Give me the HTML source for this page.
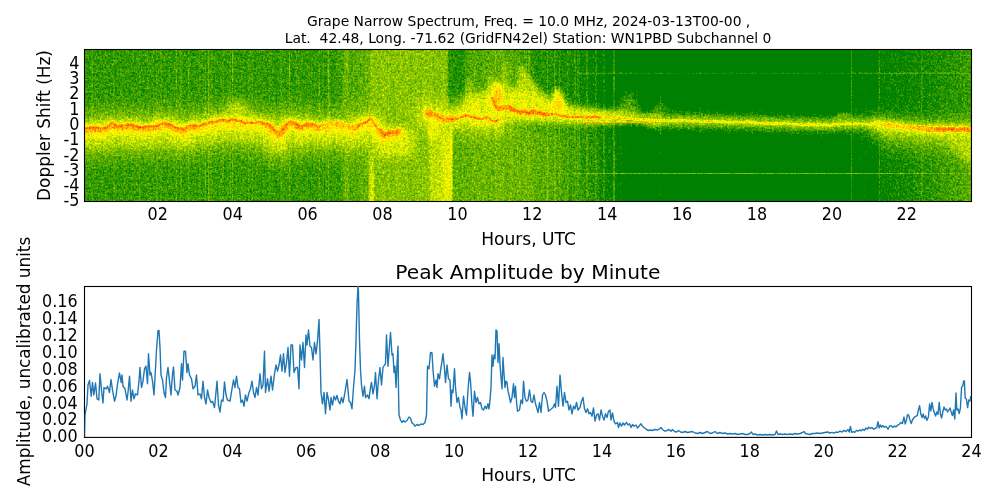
<!DOCTYPE html>
<html><head><meta charset="utf-8"><title>Grape Narrow Spectrum</title>
<style>
html,body{margin:0;padding:0;background:#fff;}
svg{display:block;will-change:transform;}
text{font-family:"DejaVu Sans","Liberation Sans",sans-serif;fill:#000;white-space:pre;}
.t10{font-size:13.89px}
.t12{font-size:16.67px}
.t14{font-size:19.44px}
</style></head><body>
<svg width="1000" height="500" viewBox="0 0 1000 500">
<rect width="1000" height="500" fill="#fff"/>
<text class="t10" x="528.6" y="25.8" text-anchor="middle" xml:space="preserve">Grape Narrow Spectrum, Freq. = 10.0 MHz, 2024-03-13T00-00 ,</text>
<text class="t10" x="528" y="42.7" text-anchor="middle" xml:space="preserve">Lat.  42.48, Long. -71.62 (GridFN42el) Station: WN1PBD Subchannel 0</text>
<defs>
<filter id="spec" filterUnits="userSpaceOnUse" x="84.5" y="49.5" width="887.0" height="152.0" color-interpolation-filters="sRGB">
<feTurbulence type="fractalNoise" baseFrequency="0.58" numOctaves="2" seed="3" result="n1"/>
<feColorMatrix in="n1" type="matrix" values="1 0 0 0 0 1 0 0 0 0 1 0 0 0 0 0 0 0 0 1" result="n1g"/>
<feTurbulence type="fractalNoise" baseFrequency="0.55 0.004" numOctaves="2" seed="11" result="n2"/>
<feColorMatrix in="n2" type="matrix" values="1 0 0 0 0 1 0 0 0 0 1 0 0 0 0 0 0 0 0 1" result="n2g"/>
<feComposite in="SourceGraphic" in2="n1g" operator="arithmetic" k1="0" k2="1" k3="0.31" k4="-0.155" result="s1"/>
<feComposite in="s1" in2="n2g" operator="arithmetic" k1="0.16" k2="0.92" k3="0" k4="0" result="s2"/>
<feTurbulence type="fractalNoise" baseFrequency="0.22 0.3" numOctaves="2" seed="23" result="n3"/>
<feColorMatrix in="n3" type="matrix" values="1 0 0 0 0 1 0 0 0 0 1 0 0 0 0 0 0 0 0 1" result="n3g"/>
<feComposite in="s2" in2="n3g" operator="arithmetic" k1="0" k2="1" k3="0.15" k4="-0.075" result="s3"/>
<feComponentTransfer in="s3">
<feFuncR type="table" tableValues="0 0 0 0 0 0 0 0 0 0 0 0.067 0.133 0.2 0.267 0.333 0.4 0.467 0.533 0.6 0.667 0.733 0.8 0.867 0.933 1 1 1 1 1 1 1 1 1 1 1 1 1 1 1 1"/>
<feFuncG type="table" tableValues="0.502 0.502 0.502 0.502 0.502 0.502 0.502 0.502 0.502 0.502 0.502 0.535 0.568 0.602 0.635 0.668 0.701 0.734 0.768 0.801 0.834 0.867 0.9 0.934 0.967 1 0.933 0.867 0.8 0.733 0.667 0.6 0.533 0.467 0.4 0.333 0.267 0.2 0.133 0.067 0"/>
<feFuncB type="table" tableValues="0 0 0 0 0 0 0 0 0 0 0 0 0 0 0 0 0 0 0 0 0 0 0 0 0 0 0 0 0 0 0 0 0 0 0 0 0 0 0 0 0"/>
</feComponentTransfer>
</filter>
<filter id="b1" filterUnits="userSpaceOnUse" x="24.5" y="-10.5" width="1007.0" height="272.0" color-interpolation-filters="sRGB"><feGaussianBlur stdDeviation="0.6"/></filter>
<filter id="b2" filterUnits="userSpaceOnUse" x="24.5" y="-10.5" width="1007.0" height="272.0" color-interpolation-filters="sRGB"><feGaussianBlur stdDeviation="2.0"/></filter>
<filter id="b3" filterUnits="userSpaceOnUse" x="24.5" y="-10.5" width="1007.0" height="272.0" color-interpolation-filters="sRGB"><feGaussianBlur stdDeviation="4.5"/></filter>
<filter id="b4" filterUnits="userSpaceOnUse" x="24.5" y="-10.5" width="1007.0" height="272.0" color-interpolation-filters="sRGB"><feGaussianBlur stdDeviation="9"/></filter>
<filter id="b5" filterUnits="userSpaceOnUse" x="24.5" y="-10.5" width="1007.0" height="272.0" color-interpolation-filters="sRGB"><feGaussianBlur stdDeviation="14"/></filter>
<filter id="bx" filterUnits="userSpaceOnUse" x="24.5" y="-10.5" width="1007.0" height="272.0" color-interpolation-filters="sRGB"><feGaussianBlur stdDeviation="1.2 0.1"/></filter>
<filter id="bf" filterUnits="userSpaceOnUse" x="24.5" y="-10.5" width="1007.0" height="272.0" color-interpolation-filters="sRGB"><feGaussianBlur stdDeviation="2.5 4"/></filter>
<linearGradient id="gb" gradientUnits="userSpaceOnUse" x1="84.5" x2="971.5" y1="0" y2="0"><stop offset="0.0000" stop-color="#535353"/><stop offset="0.2768" stop-color="#535353"/><stop offset="0.3016" stop-color="#5e5e5e"/><stop offset="0.3185" stop-color="#606060"/><stop offset="0.3286" stop-color="#717171"/><stop offset="0.3861" stop-color="#737373"/><stop offset="0.3906" stop-color="#888888"/><stop offset="0.4030" stop-color="#8c8c8c"/><stop offset="0.4076" stop-color="#9a9a9a"/><stop offset="0.4138" stop-color="#969696"/><stop offset="0.4160" stop-color="#646464"/><stop offset="0.4684" stop-color="#6a6a6a"/><stop offset="0.5248" stop-color="#606060"/><stop offset="0.5699" stop-color="#4f4f4f"/><stop offset="0.5981" stop-color="#3c3c3c"/><stop offset="0.6263" stop-color="#101010"/><stop offset="0.8630" stop-color="#101010"/><stop offset="0.8653" stop-color="#2f2f2f"/><stop offset="0.8946" stop-color="#303030"/><stop offset="0.8968" stop-color="#404040"/><stop offset="0.9532" stop-color="#4f4f4f"/><stop offset="1.0000" stop-color="#626262"/></linearGradient>
<linearGradient id="gt" gradientUnits="userSpaceOnUse" x1="84.5" x2="971.5" y1="0" y2="0"><stop offset="0.0000" stop-color="#525252"/><stop offset="0.2768" stop-color="#525252"/><stop offset="0.3016" stop-color="#5e5e5e"/><stop offset="0.3185" stop-color="#606060"/><stop offset="0.3286" stop-color="#737373"/><stop offset="0.3861" stop-color="#737373"/><stop offset="0.4008" stop-color="#737373"/><stop offset="0.4087" stop-color="#757575"/><stop offset="0.4109" stop-color="#4f4f4f"/><stop offset="0.4278" stop-color="#4d4d4d"/><stop offset="0.4312" stop-color="#5c5c5c"/><stop offset="0.4526" stop-color="#606060"/><stop offset="0.4684" stop-color="#646464"/><stop offset="0.4955" stop-color="#595959"/><stop offset="0.5079" stop-color="#4d4d4d"/><stop offset="0.5361" stop-color="#494949"/><stop offset="0.5699" stop-color="#404040"/><stop offset="0.5924" stop-color="#2d2d2d"/><stop offset="0.6263" stop-color="#101010"/><stop offset="0.8630" stop-color="#101010"/><stop offset="0.8653" stop-color="#2f2f2f"/><stop offset="0.8946" stop-color="#303030"/><stop offset="0.8968" stop-color="#3e3e3e"/><stop offset="0.9532" stop-color="#474747"/><stop offset="1.0000" stop-color="#555555"/></linearGradient>
<linearGradient id="mg" x1="0" x2="0" y1="0" y2="1"><stop offset="0.38" stop-color="#fff"/><stop offset="0.58" stop-color="#000"/></linearGradient>
<mask id="mt" maskUnits="userSpaceOnUse" x="79.5" y="44.5" width="897" height="162"><rect x="79.5" y="49.5" width="897" height="152" fill="url(#mg)"/></mask>
<clipPath id="c1"><rect x="84.5" y="49.5" width="887" height="152"/></clipPath>
</defs>
<g filter="url(#spec)"><g clip-path="url(#c1)">
<rect x="79.5" y="44.5" width="897" height="162" fill="url(#gb)"/>
<rect x="79.5" y="44.5" width="897" height="162" fill="url(#gt)" mask="url(#mt)"/>
<rect filter="url(#bx)" x="344.0" y="44.5" width="4.0" height="162.0" fill="#717171" fill-opacity="0.7"/>
<rect filter="url(#bx)" x="369.5" y="44.5" width="4.5" height="162.0" fill="#797979" fill-opacity="0.8"/>
<rect filter="url(#bx)" x="369.5" y="135.0" width="4.5" height="75.0" fill="#989898" fill-opacity="0.9"/>
<rect x="327.5" y="47.5" width="1.0" height="156.0" fill="#818181" fill-opacity="0.16"/>
<rect x="318.9" y="47.5" width="1.0" height="156.0" fill="#818181" fill-opacity="0.27"/>
<rect x="199.4" y="47.5" width="1.0" height="156.0" fill="#818181" fill-opacity="0.37"/>
<rect x="252.0" y="47.5" width="1.0" height="156.0" fill="#818181" fill-opacity="0.24"/>
<rect x="160.6" y="47.5" width="1.0" height="156.0" fill="#818181" fill-opacity="0.33"/>
<rect x="188.2" y="47.5" width="1.0" height="156.0" fill="#818181" fill-opacity="0.42"/>
<rect x="559.1" y="47.5" width="1.0" height="156.0" fill="#818181" fill-opacity="0.32"/>
<rect x="555.0" y="47.5" width="1.0" height="156.0" fill="#818181" fill-opacity="0.18"/>
<rect x="365.9" y="47.5" width="1.0" height="156.0" fill="#818181" fill-opacity="0.17"/>
<rect x="323.2" y="47.5" width="1.0" height="156.0" fill="#818181" fill-opacity="0.18"/>
<rect x="156.4" y="47.5" width="1.0" height="156.0" fill="#818181" fill-opacity="0.36"/>
<rect x="211.2" y="47.5" width="1.0" height="156.0" fill="#818181" fill-opacity="0.19"/>
<rect x="208.0" y="47.5" width="1.0" height="156.0" fill="#818181" fill-opacity="0.27"/>
<rect x="345.2" y="47.5" width="1.0" height="156.0" fill="#818181" fill-opacity="0.22"/>
<rect x="365.9" y="47.5" width="1.0" height="156.0" fill="#818181" fill-opacity="0.29"/>
<rect x="525.7" y="47.5" width="1.0" height="156.0" fill="#818181" fill-opacity="0.35"/>
<rect x="175.9" y="47.5" width="1.0" height="156.0" fill="#818181" fill-opacity="0.4"/>
<rect x="620.4" y="47.5" width="1.0" height="156.0" fill="#818181" fill-opacity="0.33"/>
<rect x="578.8" y="47.5" width="1.0" height="156.0" fill="#818181" fill-opacity="0.27"/>
<rect x="328.0" y="47.5" width="1.0" height="156.0" fill="#818181" fill-opacity="0.42"/>
<rect x="289.0" y="47.5" width="1.0" height="156.0" fill="#818181" fill-opacity="0.45"/>
<rect x="311.1" y="47.5" width="1.0" height="156.0" fill="#818181" fill-opacity="0.16"/>
<rect x="222.9" y="47.5" width="1.0" height="156.0" fill="#818181" fill-opacity="0.17"/>
<rect x="636.6" y="47.5" width="1.0" height="156.0" fill="#818181" fill-opacity="0.49"/>
<rect x="529.3" y="47.5" width="1.0" height="156.0" fill="#818181" fill-opacity="0.36"/>
<rect x="509.8" y="47.5" width="1.0" height="156.0" fill="#818181" fill-opacity="0.21"/>
<rect x="248.3" y="47.5" width="1.0" height="156.0" fill="#818181" fill-opacity="0.33"/>
<rect x="283.6" y="47.5" width="1.0" height="156.0" fill="#818181" fill-opacity="0.17"/>
<rect x="630.7" y="47.5" width="1.0" height="156.0" fill="#818181" fill-opacity="0.3"/>
<rect x="365.2" y="47.5" width="1.0" height="156.0" fill="#818181" fill-opacity="0.26"/>
<rect x="229.9" y="47.5" width="1.0" height="156.0" fill="#818181" fill-opacity="0.29"/>
<rect x="546.9" y="47.5" width="1.0" height="156.0" fill="#818181" fill-opacity="0.41"/>
<rect x="296.1" y="47.5" width="1.0" height="156.0" fill="#818181" fill-opacity="0.15"/>
<rect x="527.8" y="47.5" width="1.0" height="156.0" fill="#818181" fill-opacity="0.24"/>
<rect x="361.4" y="47.5" width="1.0" height="156.0" fill="#818181" fill-opacity="0.3"/>
<rect x="280.4" y="47.5" width="1.0" height="156.0" fill="#818181" fill-opacity="0.34"/>
<rect x="625.0" y="47.5" width="1.0" height="156.0" fill="#818181" fill-opacity="0.19"/>
<rect x="259.5" y="47.5" width="1.0" height="156.0" fill="#818181" fill-opacity="0.16"/>
<rect x="495.1" y="47.5" width="1.0" height="156.0" fill="#818181" fill-opacity="0.38"/>
<rect x="204.9" y="47.5" width="1.0" height="156.0" fill="#818181" fill-opacity="0.3"/>
<rect x="180.4" y="47.5" width="1.0" height="156.0" fill="#818181" fill-opacity="0.46"/>
<rect x="517.0" y="47.5" width="1.0" height="156.0" fill="#818181" fill-opacity="0.2"/>
<rect x="567.4" y="47.5" width="1.0" height="156.0" fill="#818181" fill-opacity="0.41"/>
<rect x="528.4" y="47.5" width="1.0" height="156.0" fill="#818181" fill-opacity="0.34"/>
<rect x="208.3" y="47.5" width="1.0" height="156.0" fill="#818181" fill-opacity="0.47"/>
<rect x="232.1" y="47.5" width="1.0" height="156.0" fill="#818181" fill-opacity="0.47"/>
<rect x="318.5" y="47.5" width="1.0" height="156.0" fill="#818181" fill-opacity="0.34"/>
<rect x="222.2" y="47.5" width="1.0" height="156.0" fill="#818181" fill-opacity="0.22"/>
<rect x="147.3" y="47.5" width="1.0" height="156.0" fill="#818181" fill-opacity="0.25"/>
<rect x="91.7" y="47.5" width="1.0" height="156.0" fill="#818181" fill-opacity="0.37"/>
<rect x="249.5" y="47.5" width="1.0" height="156.0" fill="#818181" fill-opacity="0.22"/>
<rect x="138.8" y="47.5" width="1.0" height="156.0" fill="#818181" fill-opacity="0.25"/>
<rect x="205.1" y="47.5" width="1.0" height="156.0" fill="#818181" fill-opacity="0.25"/>
<rect x="347.2" y="47.5" width="1.0" height="156.0" fill="#818181" fill-opacity="0.34"/>
<rect x="554.2" y="47.5" width="1.0" height="156.0" fill="#818181" fill-opacity="0.5"/>
<rect x="113.1" y="47.5" width="1.0" height="156.0" fill="#818181" fill-opacity="0.23"/>
<rect x="574.5" y="47.5" width="1.0" height="156.0" fill="#797979" fill-opacity="0.55"/>
<rect x="577.5" y="47.5" width="1.0" height="156.0" fill="#797979" fill-opacity="0.55"/>
<rect x="586.5" y="47.5" width="1.0" height="156.0" fill="#797979" fill-opacity="0.55"/>
<rect x="595.5" y="47.5" width="1.0" height="156.0" fill="#797979" fill-opacity="0.55"/>
<rect x="603.5" y="47.5" width="1.0" height="156.0" fill="#797979" fill-opacity="0.55"/>
<rect x="613.0" y="47.5" width="1.0" height="156.0" fill="#797979" fill-opacity="0.55"/>
<rect x="613.9" y="47.5" width="1.0" height="156.0" fill="#797979" fill-opacity="0.55"/>
<rect x="660.3" y="47.5" width="1.0" height="156.0" fill="#797979" fill-opacity="0.55"/>
<rect x="699.5" y="47.5" width="1.0" height="156.0" fill="#797979" fill-opacity="0.55"/>
<rect x="751.5" y="47.5" width="1.0" height="156.0" fill="#797979" fill-opacity="0.55"/>
<rect x="851.0" y="47.5" width="1.0" height="156.0" fill="#797979" fill-opacity="0.55"/>
<rect x="878.7" y="47.5" width="1.0" height="156.0" fill="#797979" fill-opacity="0.55"/>
<rect x="921.5" y="47.5" width="1.0" height="156.0" fill="#797979" fill-opacity="0.55"/>
<rect x="577.0" y="72.6" width="400.0" height="1.0" fill="#6a6a6a"/>
<rect x="545.0" y="173.0" width="430.0" height="1.0" fill="#6a6a6a"/>
<polyline filter="url(#b3)" fill="none" stroke="#535353" stroke-width="24" stroke-linejoin="round" stroke-linecap="round" points="656.0,120.8 688.0,120.8 720.0,121.5 772.0,123.3 824.0,125.1 850.0,123.8 876.0,123.8 880.0,124.2"/>
<polygon filter="url(#b3)" fill="#575757" points="648.0,120.0 656.0,98.0 664.0,98.0 672.0,120.0"/>
<polygon filter="url(#b3)" fill="#5e5e5e" points="614.0,117.0 624.0,92.0 634.0,90.0 644.0,118.0"/>
<polygon filter="url(#b2)" fill="#6a6a6a" points="832.0,124.0 838.0,113.0 848.0,113.0 854.0,124.0"/>
<polyline filter="url(#b4)" fill="none" stroke="#717171" stroke-width="28" stroke-linejoin="round" stroke-linecap="round" points="885.0,131.7 902.0,133.4 928.0,136.0 954.0,136.0 971.5,136.5"/>
<polyline filter="url(#b4)" fill="none" stroke="#757575" stroke-width="44" stroke-linejoin="round" stroke-linecap="round" points="84.5,135.4 85.4,135.2 92.0,134.0 100.4,135.8 106.4,135.8 111.2,130.4 116.0,132.8 128.0,132.8 132.8,131.6 138.8,134.6 146.0,134.0 152.0,133.4 156.8,132.8 161.6,129.8 168.8,131.0 176.0,134.0 183.2,136.4 188.0,134.0 194.0,132.2 200.0,132.2 212.0,129.2 230.0,126.8 242.0,128.6 260.0,129.6 267.2,131.0 273.2,135.8 278.0,141.8 282.8,135.8 290.0,128.6 296.0,131.0 302.0,133.4 308.0,131.0 314.0,132.8 320.0,133.5 332.0,131.8 344.0,132.4 348.8,134.8 357.2,132.4 363.2,128.8 370.4,125.8 375.2,131.8 380.0,139.0 383.6,142.0 392.0,139.6 398.0,138.4"/>
<polyline filter="url(#b2)" fill="none" stroke="#7d7d7d" stroke-width="9" stroke-linejoin="round" stroke-linecap="round" points="656.0,120.8 688.0,120.8 720.0,121.5 772.0,123.3 824.0,125.1 850.0,123.8 876.0,123.8 880.0,124.2"/>
<polygon filter="url(#b2)" fill="#818181" points="486.0,112.0 489.0,73.0 492.0,73.0 495.0,112.0"/>
<polygon filter="url(#b2)" fill="#818181" points="500.0,112.0 503.5,61.0 506.5,61.0 510.0,112.0"/>
<polygon filter="url(#b2)" fill="#818181" points="515.0,104.0 518.5,65.0 522.0,65.0 536.0,85.0 549.0,101.0 553.0,109.0 532.0,112.0"/>
<polygon filter="url(#b2)" fill="#818181" points="465.5,110.0 467.5,77.0 470.5,77.0 473.0,110.0"/>
<polygon filter="url(#b3)" fill="#858585" points="222.0,120.0 232.0,100.0 246.0,104.0 252.0,121.0"/>
<polygon filter="url(#b3)" fill="#858585" points="940.0,132.0 975.0,132.0 975.0,165.0 962.0,160.0"/>
<polyline filter="url(#b3)" fill="none" stroke="#8c8c8c" stroke-width="24" stroke-linejoin="round" stroke-linecap="round" points="84.5,135.4 85.4,135.2 92.0,134.0 100.4,135.8 106.4,135.8 111.2,130.4 116.0,132.8 128.0,132.8 132.8,131.6 138.8,134.6 146.0,134.0 152.0,133.4 156.8,132.8 161.6,129.8 168.8,131.0 176.0,134.0 183.2,136.4 188.0,134.0 194.0,132.2 200.0,132.2 212.0,129.2 230.0,126.8 242.0,128.6 260.0,129.6 267.2,131.0 273.2,135.8 278.0,141.8 282.8,135.8 290.0,128.6 296.0,131.0 302.0,133.4 308.0,131.0 314.0,132.8 320.0,133.5 332.0,131.8 344.0,132.4 348.8,134.8 357.2,132.4 363.2,128.8 370.4,125.8 375.2,131.8 380.0,139.0 383.6,142.0 392.0,139.6 398.0,138.4"/>
<polyline filter="url(#b3)" fill="none" stroke="#8c8c8c" stroke-width="13" stroke-linejoin="round" stroke-linecap="round" points="880.0,126.7 902.0,128.9 928.0,131.5 954.0,131.5 971.5,132.0"/>
<polygon filter="url(#b3)" fill="#909090" points="376.0,132.0 416.0,130.0 414.0,156.0 378.0,156.0"/>
<polyline filter="url(#b4)" fill="none" stroke="#909090" stroke-width="26" stroke-linejoin="round" stroke-linecap="round" points="427.2,113.2 436.0,115.6 444.0,119.6 455.2,118.8 468.0,115.3 479.2,119.6 487.2,118.0 495.2,121.2 498.0,120.0"/>
<polygon filter="url(#b3)" fill="#949494" points="458.0,114.0 466.0,97.0 490.0,90.0 520.0,88.0 548.0,98.0 575.0,107.0 640.0,116.0 600.0,122.0 500.0,120.0"/>
<polygon filter="url(#b2)" fill="#949494" points="480.0,114.0 490.0,96.0 520.0,93.0 540.0,100.0 552.0,110.0"/>
<polygon filter="url(#b2)" fill="#989898" points="549.0,112.0 554.0,89.0 561.0,89.0 567.0,112.0"/>
<polyline filter="url(#b1)" fill="none" stroke="#9d9d9d" stroke-width="2.6" stroke-linejoin="round" stroke-linecap="round" points="656.0,120.8 658.0,120.7 660.0,120.5 662.0,120.3 664.0,120.7 666.0,120.9 668.0,120.7 670.0,120.8 672.0,120.8 674.0,120.4 676.0,120.3 678.0,120.6 680.0,120.7 682.0,120.4 684.0,120.3 686.0,120.5 688.0,120.9 690.0,121.0 692.0,121.0 694.0,121.0 696.0,121.0 698.0,121.0 700.0,121.4 702.0,121.9 704.0,121.7 706.0,121.3 708.0,121.3 710.0,121.6 712.0,121.6 714.0,121.0 716.0,121.1 718.0,121.8 720.0,121.9 722.0,121.7 724.0,121.9 726.0,122.1 728.0,122.1 730.0,122.1 732.0,122.4 734.0,122.1 736.0,121.8 738.0,121.9 740.0,122.0 742.0,122.1 744.0,122.3 746.0,122.1 748.0,121.6 750.0,122.1 752.0,122.8 754.0,122.8 756.0,122.6 758.0,122.7 760.0,123.1 762.0,123.0 764.0,123.1 766.0,123.4 768.0,123.4 770.0,123.3 772.0,123.4 774.0,123.3 776.0,123.1 778.0,123.3 780.0,123.6 782.0,123.6 784.0,123.5 786.0,123.5 788.0,123.6 790.0,123.7 792.0,123.7 794.0,124.1 796.0,124.4 798.0,124.4 800.0,124.3 802.0,124.7 804.0,125.1 806.0,124.7 808.0,124.5 810.0,124.7 812.0,124.8 814.0,124.7 816.0,124.7 818.0,124.8 820.0,124.9 822.0,124.9 824.0,124.9 826.0,125.1 828.0,125.3 830.0,125.4 832.0,124.9 834.0,124.3 836.0,124.3 838.0,124.3 840.0,124.0 842.0,124.0 844.0,124.2 846.0,124.1 848.0,124.1 850.0,123.9 852.0,123.8 854.0,124.0 856.0,123.8 858.0,123.5 860.0,123.8 862.0,124.2 864.0,124.2 866.0,124.3 868.0,124.3 870.0,124.1 872.0,123.9 874.0,123.6 876.0,123.4 878.0,124.0 880.0,124.4"/>
<polygon filter="url(#b2)" fill="#9f9f9f" points="273.0,132.0 278.0,144.0 283.0,132.0"/>
<polygon filter="url(#b2)" fill="#9f9f9f" points="428.0,118.0 440.0,118.0 438.0,140.0 430.0,140.0"/>
<polyline filter="url(#b3)" fill="none" stroke="#9f9f9f" stroke-width="9" stroke-linejoin="round" stroke-linecap="round" points="492.8,98.0 494.0,104.0 496.8,107.6 509.6,108.4 519.2,111.6 528.8,113.2 535.2,111.6 543.2,114.8 556.0,114.0 564.0,116.4 568.0,117.1 584.0,117.6 612.8,117.6 640.0,119.2 656.0,120.8"/>
<polyline filter="url(#b3)" fill="none" stroke="#a3a3a3" stroke-width="10" stroke-linejoin="round" stroke-linecap="round" points="427.2,113.2 436.0,115.6 444.0,119.6 455.2,118.8 468.0,115.3 479.2,119.6 487.2,118.0 495.2,121.2 498.0,120.0"/>
<polyline filter="url(#b2)" fill="none" stroke="#a3a3a3" stroke-width="6" stroke-linejoin="round" stroke-linecap="round" points="876.0,124.3 902.0,126.9 928.0,129.5 954.0,129.5 971.5,130.0"/>
<polyline filter="url(#b2)" fill="none" stroke="#a5a5a5" stroke-width="12" stroke-linejoin="round" stroke-linecap="round" points="84.5,130.9 85.4,130.7 92.0,129.5 100.4,131.3 106.4,131.3 111.2,125.9 116.0,128.3 128.0,128.3 132.8,127.1 138.8,130.1 146.0,129.5 152.0,128.9 156.8,128.3 161.6,125.3 168.8,126.5 176.0,129.5 183.2,131.9 188.0,129.5 194.0,127.7 200.0,127.7 212.0,124.7 230.0,122.3 242.0,124.1 260.0,125.1 267.2,126.5 273.2,131.3 278.0,137.3 282.8,131.3 290.0,124.1 296.0,126.5 302.0,128.9 308.0,126.5 314.0,128.3 320.0,129.0 332.0,127.3 344.0,127.9 348.8,130.3 357.2,127.9 363.2,124.3 370.4,121.3 375.2,127.3 380.0,134.5 383.6,137.5 392.0,135.1 398.0,133.9"/>
<polygon filter="url(#b2)" fill="#a9a9a9" points="182.0,130.0 185.5,146.0 189.0,130.0"/>
<polygon filter="url(#b2)" fill="#afafaf" points="552.0,110.0 556.0,97.0 561.0,97.0 564.0,110.0"/>
<polyline filter="url(#b1)" fill="none" stroke="#afafaf" stroke-width="2.2" stroke-linejoin="round" stroke-linecap="round" points="584.0,117.4 584.8,117.5 586.8,117.5 588.8,117.2 590.8,117.2 592.8,116.9 594.8,116.7 596.8,117.0 598.8,117.4 600.8,117.6 602.8,117.8 604.8,118.1 606.8,118.3 608.8,118.3 610.8,118.4 612.8,118.1 614.8,118.1 616.8,118.2 618.8,117.8 620.8,118.0 622.8,118.5 624.8,118.5 626.8,118.5 628.8,118.3 630.8,118.4 632.8,119.0 634.8,119.5 636.8,119.6 638.8,119.4 640.8,119.5 642.8,119.9 644.8,119.7 646.8,119.3 648.8,119.9 650.8,120.5 652.8,120.4 654.8,120.6 656.0,120.8"/>
<polygon filter="url(#b2)" fill="#b2b2b2" points="492.0,100.0 493.0,82.0 500.0,82.0 503.0,96.0 500.0,106.0"/>
<polyline filter="url(#b1)" fill="none" stroke="#b2b2b2" stroke-width="4" stroke-linejoin="round" stroke-linecap="round" points="885.0,124.8 886.0,124.9 888.0,124.8 890.0,125.3 892.0,125.8 894.0,125.8 896.0,126.1 898.0,126.3 900.0,126.2 902.0,126.5 904.0,126.7 906.0,126.8 908.0,127.1 910.0,127.1 912.0,127.1 914.0,127.3 916.0,127.7 918.0,127.9 920.0,127.9 922.0,127.9 924.0,128.0 925.0,128.3"/>
<polyline filter="url(#b1)" fill="none" stroke="#b4b4b4" stroke-width="5" stroke-linejoin="round" stroke-linecap="round" points="320.0,126.5 320.5,126.3 322.5,126.1 324.5,126.7 326.5,126.1 328.5,124.9 330.5,123.8 332.5,123.4 334.5,124.1 336.5,124.1 338.5,123.6 340.5,123.9 342.5,125.0 344.5,125.3 346.5,126.1 348.5,127.1 350.5,127.0 352.5,127.4 354.5,127.7 356.5,127.2 358.0,126.0"/>
<polyline filter="url(#b1)" fill="none" stroke="#bababa" stroke-width="6" stroke-linejoin="round" stroke-linecap="round" points="84.5,129.6 86.5,129.7 88.5,129.9 90.5,129.0 92.5,128.7 94.5,129.3 96.5,129.0 98.5,129.1 100.5,129.9 102.5,129.6 104.5,129.3 106.5,129.4 108.5,127.6 110.5,125.2 112.5,124.4 114.5,125.8 116.5,127.8 118.5,127.8 120.5,126.9 122.5,126.7 124.5,126.5 126.5,126.1 128.5,126.1 130.5,126.2 132.5,126.4 134.5,127.2 136.5,127.8 138.5,128.5 140.5,128.5 142.5,128.6 144.5,128.5 146.5,128.0 148.5,127.8 150.5,127.7 152.5,127.5 154.5,127.4 156.5,127.5 158.5,126.6 160.5,125.3 162.5,124.8 164.5,124.6 166.5,124.5 168.5,125.2 170.5,126.2 172.5,127.3 174.5,128.5 176.5,129.3 178.5,129.5 180.5,129.6 182.5,130.6 184.5,130.7 186.5,129.1 188.5,127.3 190.5,126.7 192.5,126.7 194.5,126.8 196.5,127.2 198.5,127.6 200.0,127.3"/>
<polyline filter="url(#b1)" fill="none" stroke="#bababa" stroke-width="6" stroke-linejoin="round" stroke-linecap="round" points="267.0,125.1 268.5,125.7 270.5,127.1 272.5,129.0 274.5,131.6 276.5,133.8 278.5,135.0 280.5,132.9 282.5,130.7 284.5,128.6 286.5,126.0 288.5,123.5 290.5,122.8 292.5,124.2 294.5,124.8 296.5,125.6 298.5,126.7 300.5,127.0 302.5,127.3 304.5,126.5 306.5,125.6 308.5,125.4 310.5,125.3 312.5,124.9 314.5,125.8 316.5,127.6 318.5,128.2 320.0,127.5"/>
<polyline filter="url(#b1)" fill="none" stroke="#bababa" stroke-width="7" stroke-linejoin="round" stroke-linecap="round" points="428.0,113.3 429.2,113.4 431.2,114.1 433.2,115.0 435.2,115.6 437.2,116.3 439.2,117.1 441.2,118.2 443.2,119.2 445.2,119.6 447.2,119.1 449.2,118.8 451.2,118.9 453.0,119.0"/>
<polyline filter="url(#b1)" fill="none" stroke="#bebebe" stroke-width="5" stroke-linejoin="round" stroke-linecap="round" points="493.0,98.7 494.8,105.2 496.8,107.7 498.8,108.2 500.8,108.4 502.8,108.1 504.8,107.6 506.8,107.4 508.8,107.6 510.8,108.5 512.8,109.7 514.8,110.6 516.8,111.0 518.8,111.8 520.8,112.4 522.8,111.9 524.8,111.7 526.8,112.5 528.8,113.2 530.8,112.6 532.8,111.7 534.8,111.5 536.8,112.5 538.8,112.9 540.8,113.3 542.8,114.2 544.8,114.3 546.0,114.5"/>
<polyline filter="url(#b1)" fill="none" stroke="#bebebe" stroke-width="1.2" stroke-linejoin="round" stroke-linecap="round" points="584.0,122.4 650.0,122.4"/>
<polyline filter="url(#b1)" fill="none" stroke="#bebebe" stroke-width="5.5" stroke-linejoin="round" stroke-linecap="round" points="920.0,128.2 922.0,128.2 924.0,128.3 926.0,128.8 928.0,129.3 930.0,129.4 932.0,129.6 934.0,129.6 936.0,129.2 938.0,129.3 940.0,129.5 942.0,129.3 944.0,129.5 946.0,129.7 948.0,129.4 950.0,129.1 952.0,129.3 954.0,129.7 956.0,129.9 958.0,129.6 960.0,129.2 962.0,129.3 964.0,129.4 966.0,129.3 968.0,129.8 970.0,130.1 971.5,129.8"/>
<polyline filter="url(#b1)" fill="none" stroke="#c0c0c0" stroke-width="6" stroke-linejoin="round" stroke-linecap="round" points="380.0,131.1 380.5,131.7 382.5,133.6 384.5,135.2 386.5,134.5 388.5,133.3 390.5,133.0 392.5,132.9 394.5,133.0 396.5,132.9 398.0,131.4"/>
<polyline filter="url(#b1)" fill="none" stroke="#c9c9c9" stroke-width="2.2" stroke-linejoin="round" stroke-linecap="round" points="357.0,126.8 358.5,125.6 360.5,124.3 362.5,123.5 364.5,122.8 366.5,121.8 368.5,120.4 370.5,118.5 372.5,120.7 374.5,123.9 376.5,126.9 378.5,129.5 380.5,131.7 381.0,132.1"/>
<polyline filter="url(#b1)" fill="none" stroke="#c9c9c9" stroke-width="2.4" stroke-linejoin="round" stroke-linecap="round" points="545.0,114.3 546.8,114.6 548.8,114.8 550.8,114.4 552.8,114.0 554.8,113.9 556.8,114.3 558.8,115.2 560.8,115.7 562.8,115.8 564.8,116.1 566.8,116.8 568.8,117.4 570.8,117.3 572.8,116.8 574.8,116.8 576.8,117.1 578.8,116.8 580.8,116.6 582.8,117.2 584.8,117.5 586.8,117.5 588.8,117.2 590.8,117.2 592.8,116.9 594.8,116.7 596.8,117.0 598.8,117.4 600.0,117.5"/>
<polyline filter="url(#b1)" fill="none" stroke="#cbcbcb" stroke-width="2.6" stroke-linejoin="round" stroke-linecap="round" points="200.0,126.1 200.5,126.0 202.5,124.7 204.5,124.1 206.5,123.9 208.5,123.0 210.5,122.3 212.5,122.2 214.5,122.3 216.5,122.2 218.5,120.9 220.5,119.9 222.5,120.0 224.5,120.2 226.5,121.0 228.5,121.1 230.5,119.8 232.5,119.2 234.5,119.7 236.5,120.8 238.5,121.0 240.5,121.0 242.5,121.9 244.5,122.8 246.5,122.7 248.5,122.6 250.5,122.9 252.5,123.1 254.5,122.9 256.5,122.3 258.5,122.1 260.5,122.1 262.5,122.8 264.5,123.7 266.5,123.9 268.0,124.5"/>
<polyline filter="url(#b1)" fill="none" stroke="#cdcdcd" stroke-width="2.2" stroke-linejoin="round" stroke-linecap="round" points="427.2,113.2 429.2,113.4 431.2,114.1 433.2,115.0 435.2,115.6 437.2,116.3 439.2,117.1 441.2,118.2 443.2,119.2 445.2,119.6 447.2,119.1 449.2,118.8 451.2,118.9 453.2,119.0 455.2,119.3 457.2,118.8 459.2,118.0 461.2,117.3 463.2,116.1 465.2,115.3 467.2,115.4 469.2,115.9 471.2,116.6 473.2,117.2 475.2,117.8 477.2,118.5 479.2,119.1 481.2,119.0 483.2,118.9 485.2,118.1 487.2,117.3 489.2,118.4 491.2,119.8 493.2,121.1 495.2,121.8 497.2,120.4 498.0,120.0"/>
<polyline filter="url(#b1)" fill="none" stroke="#d1d1d1" stroke-width="2.0" stroke-linejoin="round" stroke-linecap="round" points="84.5,128.4 86.5,128.5 88.5,128.7 90.5,127.8 92.5,127.5 94.5,128.1 96.5,127.8 98.5,127.9 100.5,128.7 102.5,128.4 104.5,128.1 106.5,128.2 108.5,126.4 110.5,124.0 112.5,123.2 114.5,124.6 116.5,126.6 118.5,126.6 120.5,125.7 122.5,125.5 124.5,125.3 126.5,124.9 128.5,124.9 130.5,125.0 132.5,125.2 134.5,126.0 136.5,126.6 138.5,127.3 140.5,127.3 142.5,127.4 144.5,127.3 146.5,126.8 148.5,126.6 150.5,126.5 152.5,126.3 154.5,126.2 156.5,126.3 158.5,125.4 160.5,124.1 162.5,123.6 164.5,123.4 166.5,123.3 168.5,124.0 170.5,125.0 172.5,126.1 174.5,127.3 176.5,128.1 178.5,128.3 180.5,128.4 182.5,129.4 184.5,129.5 186.5,127.9 188.5,126.1 190.5,125.5 192.5,125.5 194.5,125.6 196.5,126.0 198.5,126.4 200.0,126.1"/>
<polyline filter="url(#b1)" fill="none" stroke="#d1d1d1" stroke-width="2.0" stroke-linejoin="round" stroke-linecap="round" points="267.0,124.1 268.5,124.7 270.5,126.1 272.5,128.0 274.5,130.6 276.5,132.8 278.5,134.0 280.5,131.9 282.5,129.7 284.5,127.6 286.5,125.0 288.5,122.5 290.5,121.8 292.5,123.2 294.5,123.8 296.5,124.6 298.5,125.7 300.5,126.0 302.5,126.3 304.5,125.5 306.5,124.6 308.5,124.4 310.5,124.3 312.5,123.9 314.5,124.8 316.5,126.6 318.5,127.2 320.0,126.5"/>
<polyline filter="url(#b1)" fill="none" stroke="#d1d1d1" stroke-width="2.2" stroke-linejoin="round" stroke-linecap="round" points="380.0,131.1 380.5,131.7 382.5,133.6 384.5,135.2 386.5,134.5 388.5,133.3 390.5,133.0 392.5,132.9 394.5,133.0 396.5,132.9 398.0,131.4"/>
<polyline filter="url(#b1)" fill="none" stroke="#d1d1d1" stroke-width="2.2" stroke-linejoin="round" stroke-linecap="round" points="492.8,98.0 494.8,105.2 496.8,107.7 498.8,108.2 500.8,108.4 502.8,108.1 504.8,107.6 506.8,107.4 508.8,107.6 510.8,108.5 512.8,109.7 514.8,110.6 516.8,111.0 518.8,111.8 520.8,112.4 522.8,111.9 524.8,111.7 526.8,112.5 528.8,113.2 530.8,112.6 532.8,111.7 534.8,111.5 536.8,112.5 538.8,112.9 540.8,113.3 542.8,114.2 544.8,114.3 546.0,114.5"/>
<polyline filter="url(#b1)" fill="none" stroke="#d1d1d1" stroke-width="2.2" stroke-linejoin="round" stroke-linecap="round" points="935.0,129.1 936.0,128.9 938.0,129.0 940.0,129.2 942.0,129.0 944.0,129.2 946.0,129.4 948.0,129.1 950.0,128.8 952.0,129.0 954.0,129.4 956.0,129.6 958.0,129.3 960.0,128.9 962.0,129.0 964.0,129.1 966.0,129.0 968.0,129.5 970.0,129.8 971.5,129.5"/>
</g></g>
<rect x="84.5" y="49.5" width="887.0" height="152.0" fill="none" stroke="#000" stroke-width="1.1"/>
<text class="t12" transform="translate(79.50,206.40) scale(0.96,1.07)" text-anchor="end">-5</text>
<text class="t12" transform="translate(79.50,191.10) scale(0.96,1.07)" text-anchor="end">-4</text>
<text class="t12" transform="translate(79.50,175.80) scale(0.96,1.07)" text-anchor="end">-3</text>
<text class="t12" transform="translate(79.50,160.50) scale(0.96,1.07)" text-anchor="end">-2</text>
<text class="t12" transform="translate(79.50,145.20) scale(0.96,1.07)" text-anchor="end">-1</text>
<text class="t12" transform="translate(79.50,129.90) scale(0.96,1.07)" text-anchor="end">0</text>
<text class="t12" transform="translate(79.50,114.60) scale(0.96,1.07)" text-anchor="end">1</text>
<text class="t12" transform="translate(79.50,99.30) scale(0.96,1.07)" text-anchor="end">2</text>
<text class="t12" transform="translate(79.50,84.00) scale(0.96,1.07)" text-anchor="end">3</text>
<text class="t12" transform="translate(79.50,68.70) scale(0.96,1.07)" text-anchor="end">4</text>
<text class="t12" transform="translate(157.80,219.90) scale(0.96,1.07)" text-anchor="middle">02</text>
<text class="t12" transform="translate(232.70,219.90) scale(0.96,1.07)" text-anchor="middle">04</text>
<text class="t12" transform="translate(307.60,219.90) scale(0.96,1.07)" text-anchor="middle">06</text>
<text class="t12" transform="translate(382.50,219.90) scale(0.96,1.07)" text-anchor="middle">08</text>
<text class="t12" transform="translate(457.40,219.90) scale(0.96,1.07)" text-anchor="middle">10</text>
<text class="t12" transform="translate(532.30,219.90) scale(0.96,1.07)" text-anchor="middle">12</text>
<text class="t12" transform="translate(607.20,219.90) scale(0.96,1.07)" text-anchor="middle">14</text>
<text class="t12" transform="translate(682.10,219.90) scale(0.96,1.07)" text-anchor="middle">16</text>
<text class="t12" transform="translate(757.00,219.90) scale(0.96,1.07)" text-anchor="middle">18</text>
<text class="t12" transform="translate(831.90,219.90) scale(0.96,1.07)" text-anchor="middle">20</text>
<text class="t12" transform="translate(906.80,219.90) scale(0.96,1.07)" text-anchor="middle">22</text>
<text class="t12" transform="translate(528.50,244.60) scale(1.025,1.07)" text-anchor="middle">Hours, UTC</text>
<text class="t12" transform="translate(49.80,125.50) rotate(-90) scale(1.015,1.07)" text-anchor="middle">Doppler Shift (Hz)</text>
<text class="t14" transform="translate(527.80,278.80) scale(1.042,0.975)" text-anchor="middle">Peak Amplitude by Minute</text>
<rect x="84.5" y="286.5" width="887.0" height="150.89999999999998" fill="none" stroke="#000" stroke-width="1.1"/>
<text class="t12" transform="translate(77.60,442.30) scale(0.96,1.07)" text-anchor="end">0.00</text>
<text class="t12" transform="translate(77.60,425.40) scale(0.96,1.07)" text-anchor="end">0.02</text>
<text class="t12" transform="translate(77.60,408.50) scale(0.96,1.07)" text-anchor="end">0.04</text>
<text class="t12" transform="translate(77.60,391.60) scale(0.96,1.07)" text-anchor="end">0.06</text>
<text class="t12" transform="translate(77.60,374.70) scale(0.96,1.07)" text-anchor="end">0.08</text>
<text class="t12" transform="translate(77.60,357.80) scale(0.96,1.07)" text-anchor="end">0.10</text>
<text class="t12" transform="translate(77.60,340.90) scale(0.96,1.07)" text-anchor="end">0.12</text>
<text class="t12" transform="translate(77.60,324.00) scale(0.96,1.07)" text-anchor="end">0.14</text>
<text class="t12" transform="translate(77.60,307.10) scale(0.96,1.07)" text-anchor="end">0.16</text>
<text class="t12" transform="translate(84.50,457.00) scale(0.96,1.07)" text-anchor="middle">00</text>
<text class="t12" transform="translate(158.42,457.00) scale(0.96,1.07)" text-anchor="middle">02</text>
<text class="t12" transform="translate(232.33,457.00) scale(0.96,1.07)" text-anchor="middle">04</text>
<text class="t12" transform="translate(306.25,457.00) scale(0.96,1.07)" text-anchor="middle">06</text>
<text class="t12" transform="translate(380.17,457.00) scale(0.96,1.07)" text-anchor="middle">08</text>
<text class="t12" transform="translate(454.09,457.00) scale(0.96,1.07)" text-anchor="middle">10</text>
<text class="t12" transform="translate(528.00,457.00) scale(0.96,1.07)" text-anchor="middle">12</text>
<text class="t12" transform="translate(601.92,457.00) scale(0.96,1.07)" text-anchor="middle">14</text>
<text class="t12" transform="translate(675.84,457.00) scale(0.96,1.07)" text-anchor="middle">16</text>
<text class="t12" transform="translate(749.75,457.00) scale(0.96,1.07)" text-anchor="middle">18</text>
<text class="t12" transform="translate(823.67,457.00) scale(0.96,1.07)" text-anchor="middle">20</text>
<text class="t12" transform="translate(897.59,457.00) scale(0.96,1.07)" text-anchor="middle">22</text>
<text class="t12" transform="translate(971.50,457.00) scale(0.96,1.07)" text-anchor="middle">24</text>
<text class="t12" transform="translate(528.50,481.10) scale(1.025,1.07)" text-anchor="middle">Hours, UTC</text>
<clipPath id="c2"><rect x="84.5" y="286" width="887" height="151.9"/></clipPath>
<polyline clip-path="url(#c2)" fill="none" stroke="#1f77b4" stroke-width="1.4" stroke-linejoin="round" points="84.5,436.2 85.0,415.0 87.0,403.8 88.0,385.0 89.5,380.5 91.2,396.2 92.5,382.5 93.8,395.0 95.5,383.0 97.0,398.8 98.8,400.0 100.0,373.8 101.5,390.0 103.0,403.0 104.0,387.5 106.2,388.8 107.5,386.2 109.5,392.5 111.0,379.5 112.5,390.0 114.5,401.2 116.2,395.0 117.5,383.8 119.5,373.0 121.2,382.5 122.0,375.0 123.0,386.2 125.0,388.8 127.0,400.0 128.0,392.5 129.5,376.2 131.0,401.2 132.5,390.0 134.0,398.8 135.5,393.8 137.5,395.0 139.0,381.2 140.0,367.5 141.5,387.5 143.0,381.2 144.5,368.8 146.0,366.2 147.5,383.8 148.5,353.8 150.0,375.0 151.0,372.5 152.5,381.2 154.0,395.0 155.0,377.5 156.5,350.0 158.0,330.5 159.0,330.5 160.0,347.5 161.0,375.0 162.5,380.0 164.0,392.5 165.5,397.5 166.5,377.5 168.0,367.5 169.5,381.2 171.0,395.0 172.5,373.8 173.5,367.0 175.0,390.0 177.0,391.2 178.0,395.0 180.0,387.5 181.5,363.8 182.5,380.0 184.0,351.2 185.5,351.2 187.0,372.5 188.0,363.8 189.5,375.0 191.5,378.8 193.0,388.8 195.0,386.2 196.5,375.0 198.0,395.0 200.0,393.8 201.5,398.8 203.0,381.2 204.5,397.5 206.0,403.8 207.5,390.0 209.0,397.5 211.0,402.5 212.5,401.2 214.5,407.5 217.0,381.2 218.5,405.0 220.0,412.0 221.5,400.0 223.0,401.2 224.5,382.0 226.0,395.0 227.5,400.0 230.0,401.2 232.0,388.8 233.5,380.0 235.0,387.5 236.5,376.2 238.0,387.5 239.5,388.8 241.0,402.5 242.5,400.0 244.0,406.2 245.5,395.0 247.0,401.2 249.0,392.5 250.5,388.8 252.0,381.2 253.5,392.5 255.0,397.5 256.5,387.5 258.0,395.0 260.0,373.8 261.5,388.8 263.0,385.0 264.5,351.2 265.5,392.5 267.5,378.8 269.0,391.2 271.0,376.2 272.5,390.0 274.5,373.8 276.0,365.0 277.5,371.2 279.0,365.0 280.5,355.0 282.0,371.2 283.5,353.8 285.0,372.5 286.5,362.5 288.0,347.5 289.5,376.2 291.0,345.0 292.5,345.0 294.0,372.5 296.0,367.5 297.5,367.5 299.0,388.8 300.0,345.0 301.5,360.0 303.0,342.5 304.5,367.5 306.0,335.0 307.0,345.0 308.5,330.0 310.0,346.2 311.5,347.5 313.0,360.0 314.5,342.5 316.0,353.8 317.5,341.2 319.0,319.5 320.0,352.5 321.0,392.5 322.5,403.8 324.0,392.5 325.5,413.8 327.0,392.5 328.5,400.0 330.0,410.0 331.0,397.5 332.5,405.0 334.0,396.2 335.5,400.0 337.0,395.5 338.5,401.2 340.0,403.8 341.5,397.5 343.0,402.5 344.5,395.0 345.5,388.8 347.0,379.5 348.0,390.0 349.0,401.2 350.5,402.5 352.0,408.8 353.5,387.5 355.0,370.0 356.0,340.0 357.0,305.0 357.8,290.0 358.0,286.0 358.4,290.0 358.8,307.5 359.5,340.0 360.5,370.0 361.5,385.0 363.0,396.2 364.5,386.2 365.5,397.5 367.5,395.0 369.0,398.8 370.5,387.5 371.5,382.5 373.0,393.8 374.5,385.0 375.5,372.5 377.0,398.8 378.5,380.0 380.0,367.5 381.5,385.0 383.0,367.5 384.5,365.0 385.5,363.8 386.5,335.0 388.0,366.2 389.5,345.0 390.5,332.5 392.0,355.0 393.0,353.8 394.0,372.5 395.0,366.2 396.0,387.5 397.0,365.0 398.0,346.2 398.5,390.0 399.0,415.0 400.5,420.0 402.0,422.5 403.5,420.5 405.0,422.0 407.0,420.5 409.0,417.0 410.5,418.0 412.0,423.0 413.5,424.0 415.0,426.2 417.0,424.5 419.0,425.5 421.0,424.0 423.0,424.5 425.0,422.5 426.5,415.0 427.0,390.0 427.5,366.2 429.0,368.8 430.5,352.5 432.0,353.0 433.0,370.0 434.5,386.2 436.0,380.0 437.0,387.5 438.0,373.8 439.5,378.8 440.5,371.2 442.0,361.2 443.0,353.8 444.5,368.8 445.5,382.5 447.0,365.0 448.5,378.8 450.0,380.0 451.0,406.2 452.0,390.0 453.0,392.5 454.5,368.8 455.5,387.5 457.0,402.5 458.5,397.5 460.0,407.5 461.0,410.0 462.0,418.8 463.5,396.2 465.0,407.5 466.5,415.0 468.0,390.0 469.5,372.5 470.5,381.2 472.0,405.0 473.0,416.2 474.5,391.2 476.0,402.5 477.5,397.5 479.0,403.8 480.5,402.5 482.0,408.8 483.5,410.0 485.0,406.2 486.5,408.8 488.0,403.8 489.0,408.8 490.0,400.0 491.0,387.5 492.0,355.0 493.0,366.2 494.0,355.0 495.0,358.8 496.0,330.0 497.0,331.2 498.0,362.5 499.0,343.8 500.0,365.0 501.0,377.5 502.0,388.8 503.0,357.5 504.0,373.8 505.0,387.5 506.0,381.2 507.0,382.5 508.0,391.2 509.0,395.0 510.5,402.5 512.0,397.5 513.5,383.8 514.5,397.5 515.5,386.2 516.5,401.2 517.5,411.2 519.5,410.0 521.0,400.0 522.5,403.8 523.5,381.2 525.0,397.5 526.5,401.2 528.0,400.0 529.5,390.0 531.0,401.2 532.5,402.5 534.0,395.0 535.5,403.8 537.0,408.8 538.0,412.5 539.5,402.5 541.0,412.5 542.5,395.0 544.0,392.5 545.5,395.0 547.0,401.2 548.5,411.2 550.0,410.0 551.5,408.8 553.0,407.5 554.5,403.8 555.5,407.5 557.0,386.2 558.5,406.2 560.0,375.0 561.5,392.5 563.0,406.2 564.5,392.5 566.0,402.5 567.5,401.2 569.0,410.0 570.5,405.0 572.0,413.8 573.5,406.2 575.0,408.8 576.5,402.5 578.0,410.0 580.0,407.5 581.5,401.2 583.0,397.5 584.5,408.8 586.0,412.5 587.5,408.8 589.0,413.8 590.5,412.5 592.0,416.2 593.5,408.0 595.0,421.2 596.5,415.0 598.0,413.8 599.5,420.0 601.0,410.0 602.5,416.2 604.0,420.0 605.5,413.8 607.0,417.5 608.5,411.2 610.0,410.0 611.0,420.0 612.5,413.0 614.0,421.2 615.5,423.8 617.5,422.5 618.5,427.5 620.0,423.0 621.5,426.2 623.0,423.0 624.5,425.0 626.5,422.5 628.0,425.0 629.5,423.8 631.0,427.5 632.5,424.5 634.0,426.2 636.0,425.0 637.5,428.0 639.0,426.2 641.0,423.8 642.5,426.2 644.5,428.0 646.5,429.5 648.5,430.5 650.5,430.0 652.5,430.5 655.0,429.5 657.5,430.0 659.5,428.8 661.0,427.5 663.0,430.0 665.0,431.2 667.0,430.5 669.0,429.5 671.0,431.2 672.5,429.5 674.5,431.5 676.5,432.0 678.5,430.5 680.5,432.0 682.5,432.5 685.0,431.5 687.5,432.5 690.0,432.0 692.5,431.5 695.0,433.0 697.5,433.5 700.0,432.5 702.5,433.5 705.0,432.5 707.5,431.5 710.0,433.5 712.5,433.0 715.0,431.5 717.5,433.5 720.0,432.5 722.5,433.5 725.0,433.0 727.5,434.0 730.0,433.5 732.5,434.0 735.0,433.5 737.5,434.5 740.0,434.0 742.5,433.5 745.0,434.5 747.5,434.5 750.0,433.5 751.5,432.0 753.0,434.5 755.0,434.0 757.5,435.0 760.0,434.5 762.5,435.0 765.0,434.5 767.5,435.0 770.0,434.5 772.5,435.0 775.0,434.5 776.5,431.0 778.0,434.5 780.0,434.0 782.5,434.5 785.0,434.0 787.5,434.5 790.0,434.0 792.5,434.5 795.0,433.5 797.5,434.0 800.0,433.5 802.5,432.5 804.0,431.5 805.5,433.5 807.5,434.0 810.0,434.5 812.5,433.5 815.0,433.5 817.5,433.0 820.0,433.5 822.5,433.0 825.0,432.5 827.5,432.0 830.0,433.0 832.0,432.4 834.0,433.2 836.0,432.0 838.0,432.4 840.0,431.2 842.0,432.0 844.0,430.4 846.0,431.6 848.0,429.6 849.2,432.0 850.4,426.4 851.6,432.4 853.2,431.6 854.8,432.4 856.4,430.4 858.0,431.2 859.6,430.0 861.2,430.8 862.8,429.2 864.4,430.4 866.0,428.0 867.6,429.2 868.8,427.2 870.4,428.4 872.0,427.6 873.6,429.2 875.2,428.4 876.8,427.6 878.0,421.6 879.2,428.0 880.4,425.0 881.6,427.2 882.8,425.6 884.4,427.2 886.0,426.4 888.0,429.2 889.6,426.0 891.2,425.6 892.8,427.6 894.4,426.0 896.0,426.8 897.6,425.2 899.2,424.4 900.8,422.4 902.4,423.6 904.0,417.0 905.2,424.0 906.4,420.0 907.6,414.4 908.8,415.6 910.0,420.0 911.2,423.6 912.4,420.0 914.0,417.6 915.6,416.4 917.2,415.6 918.4,410.0 919.6,405.6 920.8,414.0 922.0,417.6 923.2,414.0 924.4,418.4 925.6,416.0 926.8,420.4 928.4,417.0 929.6,404.0 930.8,411.0 932.0,402.4 933.2,409.0 934.4,413.0 935.6,416.0 936.8,412.0 938.0,414.4 939.2,402.4 940.4,414.0 941.6,418.0 942.8,412.0 944.0,407.0 945.2,410.0 946.4,409.0 947.6,412.0 948.8,410.0 950.0,408.0 951.2,412.0 952.4,415.6 953.6,410.0 954.8,419.0 956.0,393.0 956.8,410.0 958.0,409.0 959.2,413.6 960.4,408.0 961.6,387.0 962.8,386.0 963.6,381.0 964.4,381.0 965.2,398.0 966.4,399.0 967.6,407.6 968.8,400.0 970.0,401.0 970.8,396.0"/>
<text class="t12" transform="translate(30.40,361.50) rotate(-90) scale(1.01,1.07)" text-anchor="middle">Amplitude, uncalibrated units</text>
</svg></body></html>
